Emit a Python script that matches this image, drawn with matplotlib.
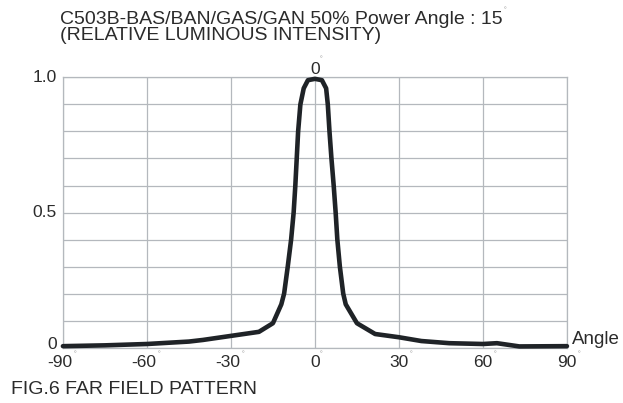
import matplotlib
matplotlib.use("Agg")
import matplotlib.pyplot as plt

# (angle in degrees, relative intensity)
angles = [-90, -75, -60, -45, -40, -30, -20, -15, -12, -11, -9.7, -8.5, -7.6,
          -7.0, -6.5, -6.0, -5.2, -4.0, -2.5, 0, 2.5, 4.0, 4.6, 5.2, 5.9,
          6.7, 7.4, 8.0, 8.9, 10.1, 11, 15, 21.5, 30, 38, 48, 60, 65, 73, 90]
intensity = [0.005, 0.008, 0.013, 0.022, 0.028, 0.043, 0.058, 0.09, 0.16,
             0.2, 0.3, 0.4, 0.5, 0.6, 0.7, 0.8, 0.9, 0.96, 0.99, 0.995, 0.99,
             0.96, 0.9, 0.8, 0.7, 0.6, 0.5, 0.4, 0.3, 0.2, 0.16, 0.09, 0.05,
             0.038, 0.024, 0.016, 0.013, 0.016, 0.004, 0.005]

x_ticks = [-90, -60, -30, 0, 30, 60, 90]
y_ticks = [0, 0.5, 1.0]
y_tick_labels = ["0", "0.5", "1.0"]

title_1 = "C503B-BAS/BAN/GAS/GAN 50% Power Angle : 15"
title_2 = "(RELATIVE LUMINOUS INTENSITY)"
caption = "FIG.6 FAR FIELD PATTERN"

text_col = "#2b2b2b"
grid_col = "#b4b8bd"
line_col = "#1f2327"
deg_col = "#9a9a9a"

plt.rcParams["font.family"] = ["Liberation Sans", "DejaVu Sans"]

fig = plt.figure(figsize=(6.23, 4.03), dpi=100)
ax = fig.add_axes([0.101, 0.1377, 0.809, 0.67])

ax.plot(angles, intensity, color=line_col, lw=3.3, solid_joinstyle="round",
        solid_capstyle="round", clip_on=False, zorder=3)

ax.set_xlim(-90, 90)
ax.set_ylim(0, 1.0)
ax.set_xticks(range(-90, 91, 30))
ax.set_yticks([i / 10 for i in range(11)])
ax.grid(True, color=grid_col, lw=0.9)
for s in ax.spines.values():
    s.set_color(grid_col)
    s.set_linewidth(0.9)
ax.tick_params(length=0, labelbottom=False, labelleft=False)

# y labels
for v, lab in zip(y_ticks, y_tick_labels):
    dy = 2 if v == 0 else 0
    ax.annotate(lab, xy=(0, v), xycoords=("axes fraction", "data"),
                xytext=(-4.5, dy), textcoords="offset points",
                ha="right", va="center", fontsize=12.5, color=text_col)

# x labels: digits centred on the grid line, small degree mark after
for t in x_ticks:
    if t < 0:
        ax.annotate(str(t), xy=(t, 0), xycoords=("data", "axes fraction"),
                    xytext=(7, -10.5), textcoords="offset points",
                    ha="right", va="center", fontsize=12.5, color=text_col)
    else:
        ax.annotate(str(t), xy=(t, 0), xycoords=("data", "axes fraction"),
                    xytext=(0, -10.5), textcoords="offset points",
                    ha="center", va="center", fontsize=12.5, color=text_col)
    dx = 3 if t == 0 else 7
    ax.annotate("°", xy=(t, 0), xycoords=("data", "axes fraction"),
                xytext=(dx + 1.5, -3), textcoords="offset points",
                ha="center", va="top", fontsize=5, color=deg_col)

# 0 mark above the peak
ax.annotate("0", xy=(0, 1), xycoords=("data", "axes fraction"),
            xytext=(0, 6), textcoords="offset points",
            ha="center", va="center", fontsize=12.5, color=text_col)
ax.annotate("°", xy=(0, 1), xycoords=("data", "axes fraction"),
            xytext=(4.5, 10), textcoords="offset points",
            ha="center", va="bottom", fontsize=5, color=deg_col)

ax.annotate("Angle", xy=(1, 0), xycoords="axes fraction",
            xytext=(3.5, 5.5), textcoords="offset points",
            ha="left", va="center", fontsize=13.5, color=text_col)

fig.text(60 / 623, 1 - 19 / 403, title_1, ha="left", va="center",
         fontsize=14, color=text_col)
fig.text(504 / 623, 1 - 11 / 403, "°", ha="left", va="center",
         fontsize=5, color=deg_col)
fig.text(60 / 623, 1 - 35.5 / 403, title_2, ha="left", va="center",
         fontsize=14, color=text_col)
fig.text(11 / 623, 1 - 390 / 403, caption, ha="left", va="center",
         fontsize=14, color=text_col)

fig.savefig("out.png", dpi=100, facecolor="white")
